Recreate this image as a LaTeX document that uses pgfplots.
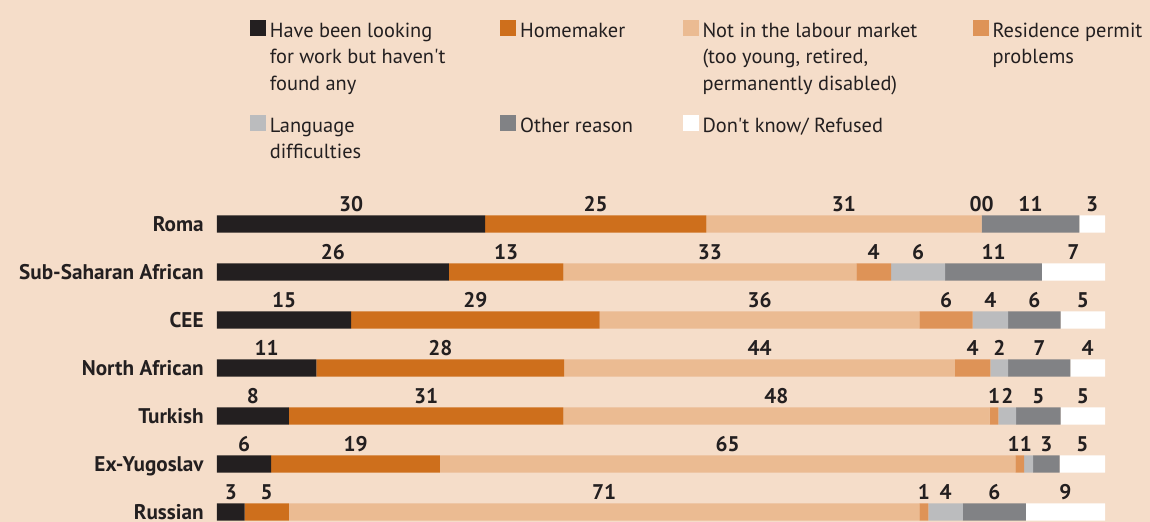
\documentclass[border=0pt]{standalone}
\usepackage{pgfplots}
\pgfplotsset{compat=1.18}
\usepackage{pgfplotstable}
\usepackage{fontspec}
\setmainfont{PT Sans}[Ligatures=TeXOff]

\definecolor{bgc}{HTML}{F5DDC9}
\definecolor{txt}{HTML}{231F20}
\definecolor{clook}{HTML}{231F20}
\definecolor{chome}{HTML}{CE6F1C}
\definecolor{cnilm}{HTML}{EBBB92}
\definecolor{cres}{HTML}{DE9357}
\definecolor{clang}{HTML}{BBBCBE}
\definecolor{coth}{HTML}{818285}

% bar lengths, printed labels as shown
% (two touching labels are written as one, as in the chart)
\pgfplotstableread{
pos look hm   nilm res  lang oth  dk  llook lhm lnilm lres llang loth ldk
6   30.2 24.9 31.0 0.01 0    11.0 2.9 30    25  31    00   {}    11   3
5   26.1 12.9 33.0 3.9  6.1  10.9 7.1 26    13  33    4    6     11   7
4   15.1 28.0 36.0 6.0  4.0  5.9  5.0 15    29  36    6    4     6    5
3   11.2 27.9 44.0 4.0  2.0  7.0  3.9 11    28  44    4    2     7    4
2   8.1  30.9 48.0 1.0  2.0  5.0  5.0 8     31  48    1    2     5    5
1   6.1  19.0 64.8 1.0  1.0  3.0  5.1 6     19  65    11   {}    3    5
0   3.1  5.0  71.0 1.0  3.9  7.1  8.9 3     5   71    1    4     6    9
}\shares

\newcommand{\lab}{\fontsize{10.6}{13}\selectfont}
\newcommand{\leg}{\fontsize{10.2}{13.25}\selectfont}

\begin{document}
\begin{tikzpicture}
\path[use as bounding box, fill=bgc] (-108.5pt,0pt) rectangle (466.5pt,261pt);
\begin{axis}[
  at={(0pt,0pt)}, anchor=south west,
  x=4.44pt, y=24pt,
  xmin=0, xmax=100, ymin=-0.2083, ymax=6.5,
  xbar stacked, bar width=8.6pt,
  axis line style={draw=none}, tick style={draw=none},
  xtick=\empty, ytick={0,...,6},
  yticklabels={Russian,Ex-Yugoslav,Turkish,North African,CEE,Sub-Saharan African,Roma},
  yticklabel style={font=\lab\bfseries, text=txt, inner sep=0pt, anchor=base east, xshift=-6.5pt, yshift=-3.6pt},
  point meta=explicit symbolic,
  nodes near coords,
  every node near coord/.append style={font=\lab\bfseries, text=txt, inner sep=0pt, anchor=base, yshift=6.4pt},
  clip=false,
  legend columns=4,
  legend image code/.code={\fill[#1] (0pt,0.5pt) rectangle (8pt,8.5pt);},
  legend style={at={(axis description cs:0.0365,1.560)}, anchor=north west,
    draw=none, fill=none, inner sep=0pt, font=\leg, text=txt,
    nodes={inner sep=0pt, text height=8pt, text depth=39.15pt, anchor=base west},
    /tikz/every odd column/.append style={column sep=2pt}},
]
\addplot[fill=clook, draw=none] table[x=look, y=pos, meta=llook] {\shares};
\addlegendentry{\parbox[t]{115.2pt}{Have been looking\\for work but haven't\\found any}}
\addplot[fill=chome, draw=none] table[x=hm, y=pos, meta=lhm] {\shares};
\addlegendentry{\parbox[t]{81.15pt}{Homemaker}}
\addplot[fill=cnilm, draw=none] table[x=nilm, y=pos, meta=lnilm] {\shares};
\addlegendentry{\parbox[t]{135pt}{Not in the labour market\\(too young, retired,\\permanently disabled)}}
\addplot[fill=cres, draw=none] table[x=res, y=pos, meta=lres] {\shares};
\addlegendentry{\parbox[t]{80pt}{Residence permit\\problems}}
\addplot[fill=clang, draw=none] table[x=lang, y=pos, meta=llang] {\shares};
\addlegendentry{\parbox[t]{115.2pt}{Language\\difficulties}}
\addplot[fill=coth, draw=none] table[x=oth, y=pos, meta=loth] {\shares};
\addlegendentry{\parbox[t]{81.15pt}{Other reason}}
\addplot[fill=white, draw=none] table[x=dk, y=pos, meta=ldk] {\shares};
\addlegendentry{\parbox[t]{135pt}{Don't know/ Refused}}
\end{axis}
\end{tikzpicture}
\end{document}
